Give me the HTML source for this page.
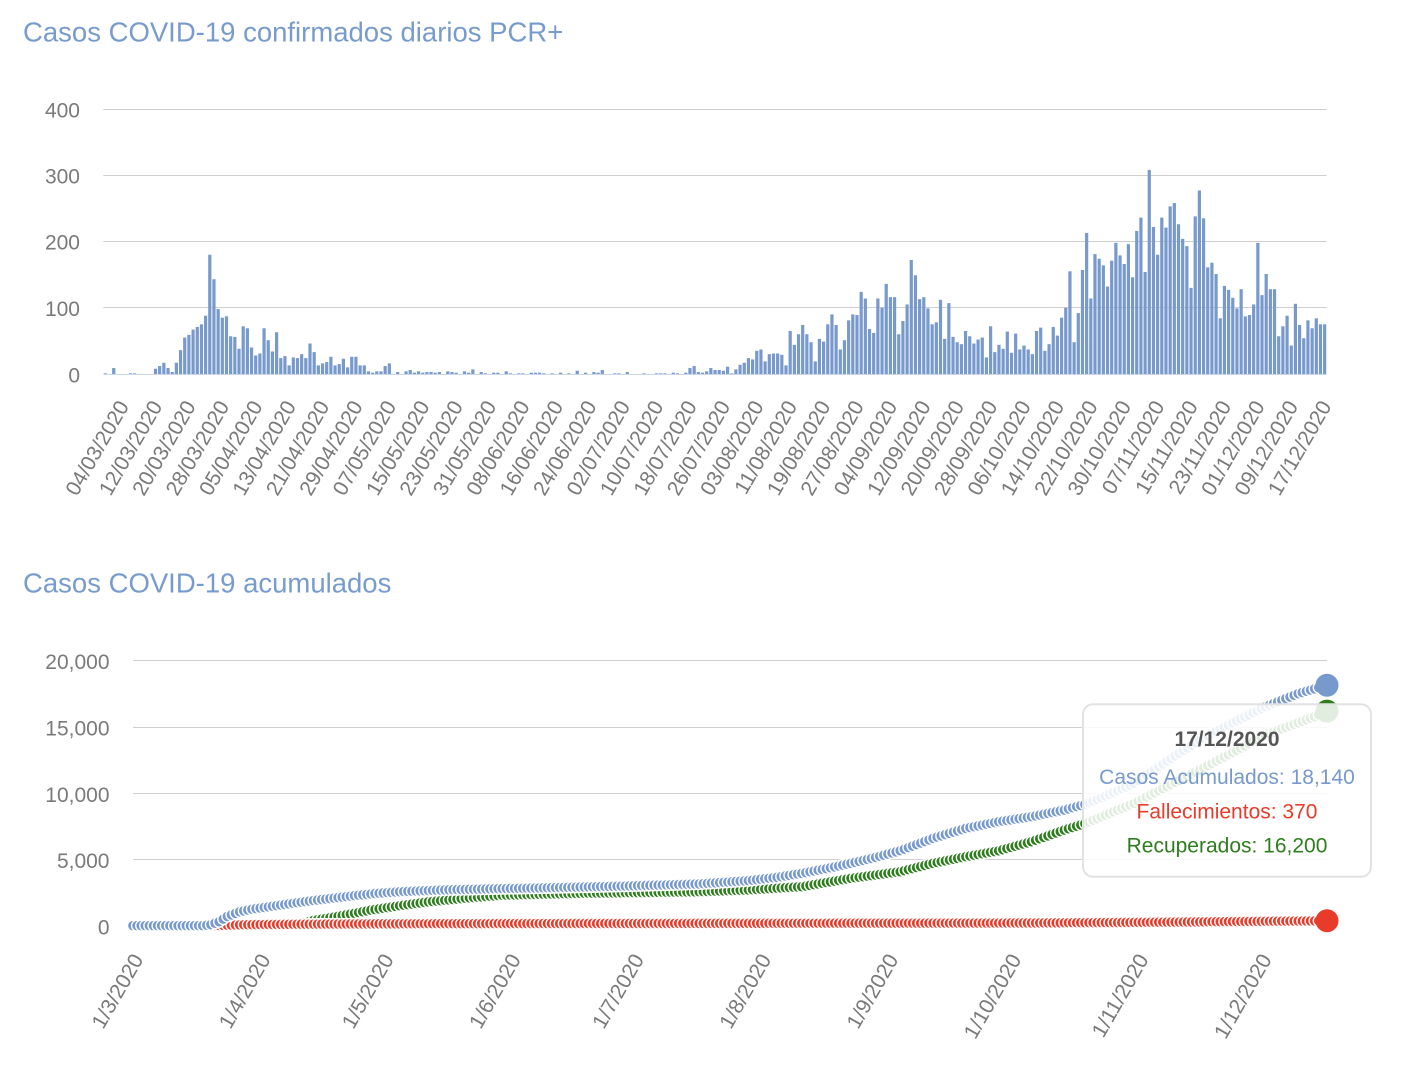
<!DOCTYPE html>
<html><head><meta charset="utf-8">
<style>
html,body{margin:0;padding:0;background:#fff;}
svg{display:block;font-family:"Liberation Sans",Arial,sans-serif;}
.t{fill:#789bcd;font-size:27.5px;}
.yl{fill:#7a7a7a;font-size:21px;text-anchor:end;}
.xl{fill:#7a7a7a;font-size:21px;text-anchor:end;}
.grid{stroke:#cfcfcf;stroke-width:1;}
</style></head>
<body>
<svg id="svg" width="1408" height="1090" viewBox="0 0 1408 1090" xmlns="http://www.w3.org/2000/svg">
<rect width="1408" height="1090" fill="#fff"/>
<!-- Chart 1 -->
<text class="t" x="23" y="41.5">Casos COVID-19 confirmados diarios PCR+</text>
<g class="grid">
<line x1="103.3" x2="1326.7" y1="109.5" y2="109.5"/>
<line x1="103.3" x2="1326.7" y1="175.5" y2="175.5"/>
<line x1="103.3" x2="1326.7" y1="241.5" y2="241.5"/>
<line x1="103.3" x2="1326.7" y1="307.5" y2="307.5"/>
</g>
<g class="yl">
<text x="80" y="117.5">400</text>
<text x="80" y="183.5">300</text>
<text x="80" y="249.5">200</text>
<text x="80" y="315.8">100</text>
<text x="80" y="382.3">0</text>
</g>
<g id="bars" fill="#7799cc"></g>
<line x1="103.3" x2="1326.7" y1="374.5" y2="374.5" stroke="#ccd6eb" stroke-width="1"/>
<g class="xl">
<text transform="translate(129.6,406) rotate(-60)">04/03/2020</text>
<text transform="translate(163.0,406) rotate(-60)">12/03/2020</text>
<text transform="translate(196.4,406) rotate(-60)">20/03/2020</text>
<text transform="translate(229.8,406) rotate(-60)">28/03/2020</text>
<text transform="translate(263.2,406) rotate(-60)">05/04/2020</text>
<text transform="translate(296.6,406) rotate(-60)">13/04/2020</text>
<text transform="translate(330.0,406) rotate(-60)">21/04/2020</text>
<text transform="translate(363.4,406) rotate(-60)">29/04/2020</text>
<text transform="translate(396.8,406) rotate(-60)">07/05/2020</text>
<text transform="translate(430.2,406) rotate(-60)">15/05/2020</text>
<text transform="translate(463.6,406) rotate(-60)">23/05/2020</text>
<text transform="translate(497.0,406) rotate(-60)">31/05/2020</text>
<text transform="translate(530.4,406) rotate(-60)">08/06/2020</text>
<text transform="translate(563.8,406) rotate(-60)">16/06/2020</text>
<text transform="translate(597.2,406) rotate(-60)">24/06/2020</text>
<text transform="translate(630.7,406) rotate(-60)">02/07/2020</text>
<text transform="translate(664.1,406) rotate(-60)">10/07/2020</text>
<text transform="translate(697.5,406) rotate(-60)">18/07/2020</text>
<text transform="translate(730.9,406) rotate(-60)">26/07/2020</text>
<text transform="translate(764.3,406) rotate(-60)">03/08/2020</text>
<text transform="translate(797.7,406) rotate(-60)">11/08/2020</text>
<text transform="translate(831.1,406) rotate(-60)">19/08/2020</text>
<text transform="translate(864.5,406) rotate(-60)">27/08/2020</text>
<text transform="translate(897.9,406) rotate(-60)">04/09/2020</text>
<text transform="translate(931.3,406) rotate(-60)">12/09/2020</text>
<text transform="translate(964.7,406) rotate(-60)">20/09/2020</text>
<text transform="translate(998.1,406) rotate(-60)">28/09/2020</text>
<text transform="translate(1031.5,406) rotate(-60)">06/10/2020</text>
<text transform="translate(1064.9,406) rotate(-60)">14/10/2020</text>
<text transform="translate(1098.3,406) rotate(-60)">22/10/2020</text>
<text transform="translate(1131.7,406) rotate(-60)">30/10/2020</text>
<text transform="translate(1165.1,406) rotate(-60)">07/11/2020</text>
<text transform="translate(1198.5,406) rotate(-60)">15/11/2020</text>
<text transform="translate(1231.9,406) rotate(-60)">23/11/2020</text>
<text transform="translate(1265.3,406) rotate(-60)">01/12/2020</text>
<text transform="translate(1298.7,406) rotate(-60)">09/12/2020</text>
<text transform="translate(1332.1,406) rotate(-60)">17/12/2020</text>
</g>

<!-- Chart 2 -->
<text class="t" x="23" y="592.3">Casos COVID-19 acumulados</text>
<g class="grid">
<line x1="133" x2="1327" y1="660.5" y2="660.5"/>
<line x1="133" x2="1327" y1="727.5" y2="727.5"/>
<line x1="133" x2="1327" y1="793.5" y2="793.5"/>
<line x1="133" x2="1327" y1="859.5" y2="859.5"/>
<line x1="133" x2="1327" y1="925.5" y2="925.5"/>
</g>
<g class="yl">
<text x="109.5" y="669">20,000</text>
<text x="109.5" y="735.5">15,000</text>
<text x="109.5" y="801.8">10,000</text>
<text x="109.5" y="868">5,000</text>
<text x="109.5" y="934.3">0</text>
</g>
<g class="xl">
<text transform="translate(144.0,959.3) rotate(-60)">1/3/2020</text>
<text transform="translate(271.2,959.3) rotate(-60)">1/4/2020</text>
<text transform="translate(394.3,959.3) rotate(-60)">1/5/2020</text>
<text transform="translate(521.5,959.3) rotate(-60)">1/6/2020</text>
<text transform="translate(644.6,959.3) rotate(-60)">1/7/2020</text>
<text transform="translate(771.8,959.3) rotate(-60)">1/8/2020</text>
<text transform="translate(899.0,959.3) rotate(-60)">1/9/2020</text>
<text transform="translate(1022.0,959.3) rotate(-60)">1/10/2020</text>
<text transform="translate(1149.2,959.3) rotate(-60)">1/11/2020</text>
<text transform="translate(1272.3,959.3) rotate(-60)">1/12/2020</text>
</g>
<g id="sGreen" fill="#2e7d1e" stroke="#fff" stroke-width="1.4"></g>
<g id="sRed" fill="#e93b2a" stroke="#fff" stroke-width="1.4"></g>
<g id="sBlue" fill="#7799cc" stroke="#fff" stroke-width="1.4"></g>
<circle cx="1327" cy="711.1" r="11.5" fill="#2e7d1e"/>
<circle cx="1327" cy="920.8" r="11.5" fill="#e93b2a"/>
<circle cx="1327" cy="685.2" r="11.5" fill="#7799cc"/>

<!-- Tooltip -->
<rect x="1083" y="704.3" width="288" height="172.4" rx="10" ry="10" fill="rgba(255,255,255,0.86)" stroke="#e2e2e2" stroke-width="2"/>
<g font-size="21" text-anchor="middle">
<text x="1227" y="746" fill="#555" font-weight="bold">17/12/2020</text>
<text x="1227" y="784" fill="#7799cc">Casos Acumulados: 18,140</text>
<text x="1227" y="818.3" fill="#e93b2a">Fallecimientos: 370</text>
<text x="1227" y="852.7" fill="#2e7d1e">Recuperados: 16,200</text>
</g>
</svg>
<script>
(function(){
var bars=[1,0,9,0,0,0,1,1,0,0,0,0,8,12,17,9,3,17,36,55,59,67,71,75,88,180,143,98,85,87,57,56,38,72,69,40,28,31,69,51,34,63,24,27,13,25,24,30,24,46,33,13,16,18,26,13,15,23,10,26,26,13,13,4,2,4,4,12,16,
0,3,0,4,6,2,4,2,3,3,2,3,0,4,3,2,0,4,2,7,0,3,1,0,2,2,0,4,1,0,1,1,0,2,2,2,1,0,1,0,2,0,1,0,5,0,2,0,3,2,6,0,0,1,1,0,3,0,0,0,1,0,0,1,1,1,0,2,1,0,2,9,12,3,
2,4,9,6,6,5,11,1,7,14,17,24,22,35,37,19,30,31,31,29,13,65,44,60,74,60,48,19,53,49,75,90,74,37,51,81,90,89,124,114,68,62,114,100,136,116,116,60,80,105,172,149,113,116,99,75,78,112,53,107,56,48,45,65,57,46,52,55,25,72,33,44,38,64,32,61,37,43,37,30,65,70,35,45,71,58,85,100,155,48,92,157,213,114,181,174,164,132,171,198,179,166,196,146,216,236,154,308,222,180,236,221,253,258,226,204,193,130,238,277,235,161,168,151,84,133,127,115,99,128,87,89,105,198,119,151,128,128,57,72,88,43,106,74,54,81,69,84,75,75];
var s='';
for(var i=0;i<bars.length;i++){var v=bars[i];if(v<=0)continue;var h=v*0.6625;var x=103.3+i*4.1755+0.5;
s+='<rect x="'+x.toFixed(2)+'" y="'+(374-h).toFixed(2)+'" width="3.2" height="'+h.toFixed(2)+'"/>';}
document.getElementById('bars').innerHTML=s;

function interp(a,d){for(var k=0;k<a.length-1;k++){var d0=a[k][0],v0=a[k][1],d1=a[k+1][0],v1=a[k+1][1];if(d>=d0&&d<=d1)return v0+(v1-v0)*(d-d0)/(d1-d0);}return a[a.length-1][1];}
var blue=[[0,0],[17,0],[19,80],[21,300],[23,700],[26,1050],[29,1250],[33,1420],[38,1650],[44,1900],[50,2120],[55,2300],[60,2450],[66,2580],[76,2700],[90,2800],[98,2840],[120,2990],[138,3150],[150,3400],[157,3650],[163,3950],[169,4300],[175,4705],[181,5150],[187,5655],[195,6590],[203,7344],[211,7842],[219,8219],[227,8724],[232,9150],[238,9900],[244,10740],[252,12400],[260,14000],[268,15300],[276,16510],[284,17500],[291,18140]];
var green=[[0,0],[38,0],[41,150],[44,400],[49,650],[54,935],[58,1180],[66,1550],[72,1800],[82,2100],[90,2300],[109,2440],[138,2560],[150,2700],[163,2940],[175,3574],[187,4072],[195,4705],[203,5203],[211,5650],[219,6334],[227,7216],[232,7700],[244,9230],[260,11740],[276,14380],[288,15760],[291,16200]];
var red=[[0,0],[18,0],[20,10],[22,25],[24,45],[27,70],[32,90],[40,110],[60,140],[100,165],[150,180],[200,195],[220,210],[240,240],[260,290],[275,330],[291,370]];
function draw(id,a){var s='';for(var d=0;d<=291;d++){var v=interp(a,d);var x=133+d*4.103;var y=925.7-v*66.3/5000;s+='<circle cx="'+x.toFixed(2)+'" cy="'+y.toFixed(2)+'" r="5.5"/>';}document.getElementById(id).innerHTML=s;}
draw('sGreen',green);draw('sRed',red);draw('sBlue',blue);
})();
</script>
</body></html>
